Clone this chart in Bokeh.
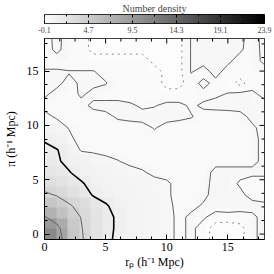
import numpy as np
from bokeh.plotting import figure
from bokeh.layouts import column
from bokeh.models import (LinearColorMapper, FixedTicker, PrintfTickFormatter, Range1d)
from bokeh.embed import file_html
from bokeh.resources import INLINE

# Number density on a regular grid: rows are pi (bottom -> top), columns are r_p (left -> right)
density = [
    [11.0, 8.5, 5.2, 3.7, 2.6, 1.75, 1.3, 1.1, 1.0, 0.9, 0.75, 0.5, 0.68, 0.45, 0.15, 0.1, 0.2, 0.5, 0.75],
    [9.5, 7.8, 4.9, 3.6, 2.6, 1.8, 1.35, 1.1, 1.0, 0.9, 0.75, 0.5, 0.68, 0.45, 0.15, 0.12, 0.2, 0.5, 0.75],
    [7.2, 5.8, 4.4, 3.45, 2.5, 1.8, 1.35, 1.1, 1.0, 0.9, 0.75, 0.5, 0.68, 0.65, 0.45, 0.45, 0.45, 0.5, 0.75],
    [5.2, 4.5, 3.7, 3.0, 2.2, 1.6, 1.2, 1.05, 0.95, 0.85, 0.7, 0.5, 0.5, 0.65, 0.75, 0.8, 0.75, 0.75, 0.7],
    [3.75, 3.4, 2.8, 2.1, 1.4, 1.2, 1.05, 0.95, 0.85, 0.8, 0.65, 0.5, 0.5, 0.5, 0.75, 0.8, 0.7, 0.45, 0.4],
    [2.9, 2.6, 2.2, 1.6, 1.2, 1.05, 0.95, 0.9, 0.85, 0.75, 0.65, 0.5, 0.5, 0.5, 0.7, 0.75, 0.55, 0.4, 0.4],
    [2.3, 2.0, 1.55, 1.2, 1.05, 0.95, 0.85, 0.75, 0.65, 0.5, 0.5, 0.45, 0.45, 0.45, 0.7, 0.7, 0.7, 0.7, 0.7],
    [1.9, 1.6, 1.3, 1.05, 0.9, 0.75, 0.62, 0.5, 0.45, 0.45, 0.45, 0.45, 0.45, 0.45, 0.5, 0.5, 0.5, 0.5, 0.7],
    [1.75, 1.55, 1.1, 0.55, 0.5, 0.45, 0.45, 0.45, 0.45, 0.45, 0.45, 0.45, 0.45, 0.45, 0.45, 0.45, 0.45, 0.5, 0.7],
    [1.4, 1.1, 0.7, 0.45, 0.45, 0.45, 0.4, 0.45, 0.45, 0.5, 0.45, 0.45, 0.45, 0.45, 0.45, 0.45, 0.45, 0.5, 0.7],
    [1.1, 0.8, 0.58, 0.45, 0.45, 0.45, 0.45, 0.45, 0.5, 0.62, 0.5, 0.45, 0.45, 0.45, 0.45, 0.45, 0.45, 0.55, 0.7],
    [0.7, 0.55, 0.45, 0.45, 0.45, 0.5, 0.65, 0.7, 0.7, 0.72, 0.7, 0.68, 0.62, 0.5, 0.45, 0.45, 0.5, 0.68, 0.72],
    [0.5, 0.45, 0.45, 0.5, 0.68, 0.72, 0.72, 0.65, 0.55, 0.58, 0.68, 0.68, 0.55, 0.65, 0.7, 0.72, 0.72, 0.72, 0.72],
    [0.65, 0.5, 0.45, 0.65, 0.5, 0.45, 0.45, 0.45, 0.45, 0.45, 0.4, 0.4, 0.45, 0.5, 0.55, 0.62, 0.68, 0.68, 0.5],
    [0.7, 0.68, 0.5, 0.65, 0.68, 0.62, 0.45, 0.45, 0.45, 0.45, 0.2, 0.2, 0.45, 0.7, 0.5, 0.45, 0.2, 0.45, 0.45],
    [0.65, 0.65, 0.62, 0.62, 0.62, 0.5, 0.45, 0.45, 0.45, 0.45, 0.2, 0.2, 0.62, 0.45, 0.72, 0.45, 0.45, 0.45, 0.45],
    [0.45, 0.45, 0.45, 0.45, 0.45, 0.45, 0.45, 0.45, 0.45, 0.2, 0.2, 0.2, 0.62, 0.72, 0.72, 0.68, 0.45, 0.45, 0.68],
    [0.45, 0.68, 0.45, 0.45, 0.2, 0.2, 0.2, 0.2, 0.2, 0.2, 0.2, 0.2, 0.62, 0.72, 0.72, 0.72, 0.65, 0.45, 0.7],
    [0.45, 0.7, 0.45, 0.45, 0.2, 0.15, 0.15, 0.2, 0.2, 0.15, 0.15, 0.2, 0.62, 0.72, 0.72, 0.72, 0.68, 0.45, 0.72],
]
rp_extent = [0.0, 18.0]
pi_extent = [-0.5, 18.0]

levels_dotted = [0.3]
levels_thin = [0.6, 3.5, 7.0]
levels_thick = [1.5]

cbar_title = "Number density"
cbar_ticks = [-0.1, 4.7, 9.5, 14.3, 19.1, 23.9]
cbar_minor = [2.3, 7.1, 11.9, 16.7, 21.5]
axis_ticks = [0, 5, 10, 15]
axis_minor = [1.25, 2.5, 3.75, 6.25, 7.5, 8.75, 11.25, 12.5, 13.75, 16.25, 17.5]

Z = np.array(density)
ny, nx = Z.shape
xs = np.linspace(rp_extent[0], rp_extent[1], nx)
ys = np.linspace(pi_extent[0], pi_extent[1], ny)

FONT = "Liberation Serif"
BORDER_LEFT = 38
FRAME_W = 220
palette = ["#%02x%02x%02x" % (v, v, v) for v in range(255, -1, -1)]
cmin, cmax = cbar_ticks[0], cbar_ticks[-1]
mapper = LinearColorMapper(palette=palette, low=cmin, high=cmax)

# ---- colour scale strip on top ----
cbf = figure(frame_width=FRAME_W, frame_height=9, output_backend="svg", toolbar_location=None,
             x_range=Range1d(cmin, cmax), y_range=Range1d(0, 1),
             min_border_left=BORDER_LEFT, min_border_right=16, min_border_top=3, min_border_bottom=0,
             title=cbar_title)
cbf.title.align = "center"
cbf.title.text_font = FONT
cbf.title.text_font_size = "10px"
cbf.title.text_font_style = "normal"
cbf.title.standoff = 1
cbf.title.offset = 0
cbf.grid.visible = False
cbf.yaxis.visible = False
cbf.outline_line_color = "black"
scale_values = np.linspace(cmin, cmax, 256).reshape(1, -1)
cbf.image(image=[scale_values], x=cmin, y=0, dw=cmax - cmin, dh=1, color_mapper=mapper)
cax = cbf.xaxis[0]
cax.ticker = FixedTicker(ticks=cbar_ticks, minor_ticks=cbar_minor)
cax.formatter = PrintfTickFormatter(format="%.1f")
cax.axis_line_color = None
cax.major_tick_in = 3
cax.major_tick_out = 0
cax.minor_tick_in = 2
cax.minor_tick_out = 0
cax.major_tick_line_color = "black"
cax.minor_tick_line_color = "black"
cax.major_label_text_font = FONT
cax.major_label_text_font_size = "8px"
cax.major_label_standoff = 3
cbf.ray(x=cbar_ticks, y=1, length=3, length_units="screen", angle=-90, angle_units="deg",
        line_color="black", line_width=1)
cbf.ray(x=cbar_minor, y=1, length=2, length_units="screen", angle=-90, angle_units="deg",
        line_color="black", line_width=1)

# ---- main panel ----
p = figure(frame_width=FRAME_W, frame_height=201, output_backend="svg", toolbar_location=None,
           x_range=Range1d(rp_extent[0], rp_extent[1]), y_range=Range1d(pi_extent[0], pi_extent[1]),
           min_border_left=BORDER_LEFT, min_border_right=16, min_border_top=3, min_border_bottom=0)
p.grid.visible = False
p.outline_line_color = "black"
p.outline_line_width = 1

p.image(image=[Z], x=rp_extent[0], y=pi_extent[0], dw=rp_extent[1] - rp_extent[0],
        dh=pi_extent[1] - pi_extent[0], color_mapper=mapper)

p.contour(xs, ys, Z, levels_dotted, line_color="#8a8a8a", line_width=1, line_dash="dotted")
p.contour(xs, ys, Z, levels_thin, line_color="#606060", line_width=1)
p.contour(xs, ys, Z, levels_thick, line_color="#000000", line_width=1.6)

# inward ticks mirrored on the top and right edges
p.ray(x=axis_ticks, y=pi_extent[1], length=5, length_units="screen", angle=-90, angle_units="deg",
      line_color="black", line_width=1)
p.ray(x=axis_minor, y=pi_extent[1], length=3, length_units="screen", angle=-90, angle_units="deg",
      line_color="black", line_width=1)
p.ray(x=rp_extent[1], y=axis_ticks, length=5, length_units="screen", angle=180, angle_units="deg",
      line_color="black", line_width=1)
p.ray(x=rp_extent[1], y=axis_minor, length=3, length_units="screen", angle=180, angle_units="deg",
      line_color="black", line_width=1)

for ax in (p.xaxis[0], p.yaxis[0]):
    ax.ticker = FixedTicker(ticks=axis_ticks, minor_ticks=axis_minor)
    ax.axis_line_color = "black"
    ax.major_tick_in = 5
    ax.major_tick_out = 0
    ax.minor_tick_in = 3
    ax.minor_tick_out = 0
    ax.major_tick_line_color = "black"
    ax.minor_tick_line_color = "black"
    ax.major_label_text_font = FONT
    ax.major_label_text_color = "black"
    ax.major_label_text_font_size = "12px"
    ax.axis_label_text_font = FONT
    ax.axis_label_text_font_style = "normal"
    ax.axis_label_text_color = "black"
    ax.axis_label_text_font_size = "12px"

p.xaxis[0].major_label_standoff = 3
p.xaxis[0].axis_label_standoff = 1
p.yaxis[0].major_label_standoff = 6
p.yaxis[0].axis_label_standoff = 6
p.xaxis[0].axis_label = "rₚ (h⁻¹ Mpc)"
p.yaxis[0].axis_label = "π (h⁻¹ Mpc)"

layout = column(cbf, p, spacing=0)
open("out.html", "w").write(file_html(layout, INLINE))
